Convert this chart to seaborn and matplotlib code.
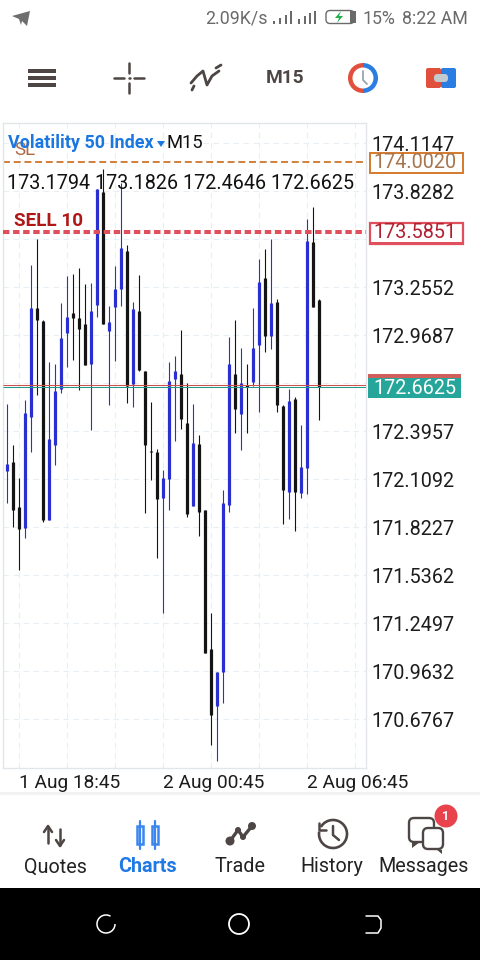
import numpy as np
import pandas as pd
import matplotlib
matplotlib.use("Agg")
import matplotlib.pyplot as plt
from matplotlib.patches import Rectangle, Circle, FancyBboxPatch, Wedge, Polygon, Arc
import seaborn as sns

opens = [172.161,172.212,171.944,171.819,172.483,173.132,173.054,171.866,172.314,172.650,172.982,173.104,173.072,173.036,172.797,173.150,173.824,172.994,173.138,173.245,173.472,172.678,173.114,172.756,172.278,172.272,171.998,172.111,172.708,172.738,172.445,171.950,172.320,171.926,171.096,170.756,170.961,171.956,172.738,172.499,172.672,172.692,172.911,173.311,172.966,173.168,172.547,172.035,172.589,172.029,172.178,173.526,173.1794]
highs = [172.559,172.314,172.117,172.583,173.388,173.543,173.060,172.809,172.797,173.162,173.323,173.335,173.370,173.277,173.283,173.842,173.961,173.144,173.384,173.878,173.508,173.168,173.329,172.756,172.571,172.290,172.165,172.811,172.845,173.000,172.684,172.559,172.374,171.926,171.311,170.961,172.045,172.959,173.060,172.893,172.797,173.132,173.424,173.484,173.543,173.185,172.553,172.648,172.600,172.433,173.663,173.734,173.1826]
lows = [171.970,171.826,171.568,171.761,172.274,172.612,171.856,171.866,172.195,172.626,172.780,172.821,172.642,172.791,172.404,173.080,173.036,172.553,172.817,173.145,172.565,172.543,172.757,171.910,172.105,171.641,171.313,171.926,172.338,172.409,171.884,171.950,171.771,171.074,170.523,170.428,170.776,171.916,172.386,172.284,172.387,172.666,172.513,172.871,172.887,172.513,171.842,171.872,171.802,171.999,172.021,173.139,172.4646]
closes = [172.201,171.926,171.813,172.505,173.132,173.060,171.866,172.350,172.636,172.953,173.078,173.072,173.006,172.791,173.114,173.842,173.036,173.048,173.245,173.490,172.668,173.126,172.762,172.314,172.272,171.992,172.117,172.696,172.756,172.469,171.902,172.324,171.916,171.074,170.702,170.961,171.968,172.797,172.529,172.684,172.660,172.893,173.287,172.966,173.162,172.553,172.045,172.577,172.035,172.183,173.532,173.139,172.6625]

price_ticks = [174.1147,173.8282,173.5417,173.2552,172.9687,172.6822,172.3957,172.1092,171.8227,171.5362,171.2497,170.9632,170.6767]
price_labels = ["174.1147","173.8282","","173.2552","172.9687","","172.3957","172.1092","171.8227","171.5362","171.2497","170.9632","170.6767"]
time_ticks = [2,10,18,26,34,42,50,58]
time_labels = ["1 Aug 18:45","","","2 Aug 00:45","","","2 Aug 06:45",""]
sl_price = 174.0020
sell_price = 173.5851
bid_price = 172.6625
ask_price = 172.674
ohlc_labels = "173.1794 173.1826 172.4646 172.6625"
nav_labels = ["Quotes","Charts","Trade","History","Messages"]

sns.set_theme(style="white")
plt.rcParams["font.family"] = ["Roboto", "DejaVu Sans"]
plt.rcParams["lines.solid_capstyle"] = "butt"

W, H = 480, 960
fig = plt.figure(figsize=(4.8, 9.6), dpi=100, facecolor="white")
L, R, T, B = 2.5, 365.5, 122.5, 767.5
ax = fig.add_axes([L/W, 1-B/H, (R-L)/W, (B-T)/H])

n = len(opens)
idx = np.arange(n)
up = np.array(closes) > np.array(opens)
dirs = np.where(up, "up", "down")
palette = {"up": "#2a2fd0", "down": "#141414"}

wick = pd.DataFrame({"bar": np.r_[idx, idx], "price": np.r_[highs, lows], "dir": np.r_[dirs, dirs]})
body = pd.DataFrame({"bar": np.r_[idx, idx], "price": np.r_[opens, closes], "dir": np.r_[dirs, dirs]})

grid = "#e8eef3"
ax.set_axisbelow(True)
ax.grid(True, color=grid, linestyle=(0, (5, 4)), linewidth=0.8)
ax.axhline(sl_price, color="#d0803a", lw=1.4, ls=(0, (3.6, 1.9)), zorder=1.5)
ax.axhline(sell_price, color="#e0505c", lw=2.9, ls=(0, (1.6, 0.9)), zorder=3)
sns.lineplot(data=wick, x="bar", y="price", hue="dir", units="bar", estimator=None, sort=False,
             palette=palette, linewidth=0.8, legend=False, ax=ax)
sns.lineplot(data=body, x="bar", y="price", hue="dir", units="bar", estimator=None, sort=False,
             palette=palette, linewidth=2.3, legend=False, ax=ax)

ax.set_xlim(-0.8, 59.7)
ax.set_ylim(174.970-0.0059687*B, 174.970-0.0059687*T)
ax.set_xlabel(""); ax.set_ylabel("")
ax.set_yticks(price_ticks, price_labels)
ax.set_xticks(time_ticks, time_labels)
ax.yaxis.tick_right()
ax.tick_params(axis="y", length=0, pad=4, labelsize=14.2, labelcolor="#1c1c1c")
ax.tick_params(axis="x", length=3, width=0.7, color=grid, pad=2, labelsize=13.8, labelcolor="#1c1c1c")
for t in ax.get_xticklabels():
    t.set_ha("left")
for s in ax.spines.values():
    s.set_color("#e2e6ea"); s.set_linewidth(1)

ax.axhline(ask_price, color="#d0504c", lw=0.75, zorder=4)
ax.axhline(bid_price, color="#1f9a8c", lw=0.75, zorder=4)

ui = fig.add_axes([0, 0, 1, 1], facecolor="none")
ui.set_xlim(0, W); ui.set_ylim(H, 0); ui.axis("off")

ink = "#4d4644"
def rect(x0, y0, x1, y1, c, **k):
    ui.add_patch(Rectangle((x0, y0), x1-x0, y1-y0, fc=c, ec="none", **k))
def line(xs, ys, c=ink, lw=1.8):
    ui.plot(xs, ys, color=c, lw=lw, solid_capstyle="round")

# chart overlays
ui.text(14, 150, "SL", color="#a85a30", fontsize=13.5, va="center", alpha=.9)
ui.text(8, 143, "Volatility 50 Index", color="#1a76e0", fontsize=12.9, fontweight="bold", va="center")
ui.add_patch(Polygon([[157, 141], [165, 141], [161, 147]], fc="#1a76e0", ec="none"))
ui.text(167, 143, "M15", color="#111111", fontsize=13.2, va="center")
ui.text(7, 183.5, ohlc_labels, color="#111111", fontsize=14.2, va="center")
ui.text(14, 221, "SELL 10", color="#b01818", fontsize=13.6, fontweight="bold", va="center")

ui.add_patch(Rectangle((370, 152.5), 93, 20, fc="white", ec="#d57a2c", lw=1.4))
ui.text(373, 163, "174.0020", color="#a8744c", fontsize=14.2, va="center")
ui.add_patch(Rectangle((370, 222.5), 93, 21, fc="white", ec="#e0505c", lw=1.6))
rect(369, 242, 464, 245, "#e0505c")
ui.text(373, 233, "173.5851", color="#b02030", fontsize=14.2, va="center")
rect(368, 374, 461, 398, "#26a69a")
rect(368, 374, 461, 377.5, "#d0605c")
ui.text(373, 388, "172.6625", color="white", fontsize=14.2, va="center")

# status bar
ui.add_patch(Polygon([[12, 16], [30, 11], [27, 26], [22, 21], [21, 25], [19, 19]], fc="#6e6e6e", ec="none"))
ui.text(205, 18.5, "2.09K/s", color="#6a6a6a", fontsize=12.8, va="center")
for x, h in zip([273, 279, 285], [3, 6, 9]):
    rect(x, 24-h, x+2, 24, "#6a6a6a")
rect(290, 11, 292, 24, "#6a6a6a")
for x, h in zip([298, 304, 309, 314], [5, 8, 11, 13]):
    rect(x, 24-h, x+2, 24, "#6a6a6a")
ui.add_patch(FancyBboxPatch((326, 10.5), 28, 13, boxstyle="round,pad=0,rounding_size=4", fc="white", ec="#6a6a6a", lw=1))
rect(350, 11, 356, 23, "#6a6a6a")
ui.add_patch(Polygon([[341, 11], [335, 18], [339, 18], [337, 23], [343, 16], [339, 16]], fc="#22b04a", ec="none"))
ui.text(363, 18.5, "15%", color="#6a6a6a", fontsize=12.8, va="center")
ui.text(402, 18.5, "8:22 AM", color="#6a6a6a", fontsize=12.8, va="center")

# toolbar
for y in [71, 78, 85]:
    rect(28, y-1.6, 56, y+1.6, ink)
line([114, 124], [78, 78]); line([134, 144], [78, 78])
line([129, 129], [63, 73]); line([129, 129], [83, 93]); line([128.5, 129.5], [78, 78])
line([191, 197, 203, 207, 212, 219], [83, 76, 71, 85, 76, 71], lw=2)
line([194, 192], [86, 90], lw=2); line([216, 221], [68, 65], lw=2)
ui.text(285, 78, "M15", color=ink, fontsize=13.8, fontweight="bold", ha="center", va="center")
ui.add_patch(Wedge((363, 78), 15, 90, 270, width=4.5, fc="#e0503c", ec="none"))
ui.add_patch(Wedge((363, 78), 15, -90, 90, width=4.5, fc="#2a7de1", ec="none"))
line([363, 363, 367], [71, 80, 84], c="#9aa5aa", lw=1.3)
ui.add_patch(FancyBboxPatch((426, 68), 15, 20, boxstyle="round,pad=0,rounding_size=2", fc="#e0503c", ec="none"))
ui.add_patch(FancyBboxPatch((441, 68), 15, 20, boxstyle="round,pad=0,rounding_size=2", fc="#2a7de1", ec="none"))
ui.add_patch(FancyBboxPatch((434, 74), 14, 8, boxstyle="round,pad=0,rounding_size=3.5", fc="#c2cace", ec="none"))

# bottom navigation
rect(0, 792, 480, 795, "#f2f2f2")
rect(0, 888, 480, 960, "#000000")
nav_x = [55, 147, 240, 332, 424]
for x, s, c, w in zip(nav_x, nav_labels, ["#222222", "#1f78e4", "#222222", "#222222", "#222222"], ["normal", "bold", "normal", "normal", "normal"]):
    ui.text(x, 867, s, color=c, fontsize=14.2, fontweight=w, ha="center", va="center")
line([48, 48], [827, 843]); line([44, 48, 52], [832, 826, 832])
line([60, 60], [829, 845]); line([56, 60, 64], [840, 846, 840])
blue = "#3a86ee"
for x in [140, 155]:
    line([x, x], [821, 849], c=blue, lw=1.6)
    ui.add_patch(Rectangle((x-3.3, 826), 6.6, 18, fc="white", ec=blue, lw=1.8))
ui.add_patch(Circle((230, 841), 4.5, fc=ink, ec="none")); ui.add_patch(Circle((252, 826), 4, fc=ink, ec="none"))
line([230, 238, 243, 252], [841, 830, 837, 826], lw=2.4)
ui.add_patch(Circle((238, 830), 3, fc=ink, ec="none")); ui.add_patch(Circle((243, 837), 3, fc=ink, ec="none"))
ui.add_patch(Arc((333, 834), 28, 28, theta1=-170, theta2=170, angle=20, ec=ink, lw=1.9))
line([333, 333, 339], [826, 835, 840], lw=1.8); line([319, 319, 326], [823, 830, 830], lw=1.8)
ui.add_patch(FancyBboxPatch((409, 818), 25, 24, boxstyle="round,pad=0,rounding_size=5", fc="white", ec=ink, lw=1.7))
ui.add_patch(Polygon([[412, 842], [412, 848], [420, 842]], fc=ink, ec="none"))
ui.add_patch(FancyBboxPatch((423, 828), 20, 21, boxstyle="round,pad=0,rounding_size=5", fc="white", ec=ink, lw=1.7))
ui.add_patch(Polygon([[436, 849], [442, 850], [442, 854]], fc=ink, ec="none"))
ui.add_patch(Circle((446, 816), 11.5, fc="#e8434c", ec="none"))
ui.text(446, 816, "1", color="white", fontsize=9, fontweight="bold", ha="center", va="center")

# system buttons
ui.add_patch(Arc((106, 924), 18, 18, theta1=0, theta2=300, ec="white", lw=1.1))
ui.add_patch(Circle((239, 924), 10, fc="none", ec="white", lw=1.3))
line([366, 373, 378, 381, 381, 378, 366], [916, 916, 916, 920, 928, 933, 933], c="white", lw=1.1)

fig.savefig("out.png", dpi=100)
